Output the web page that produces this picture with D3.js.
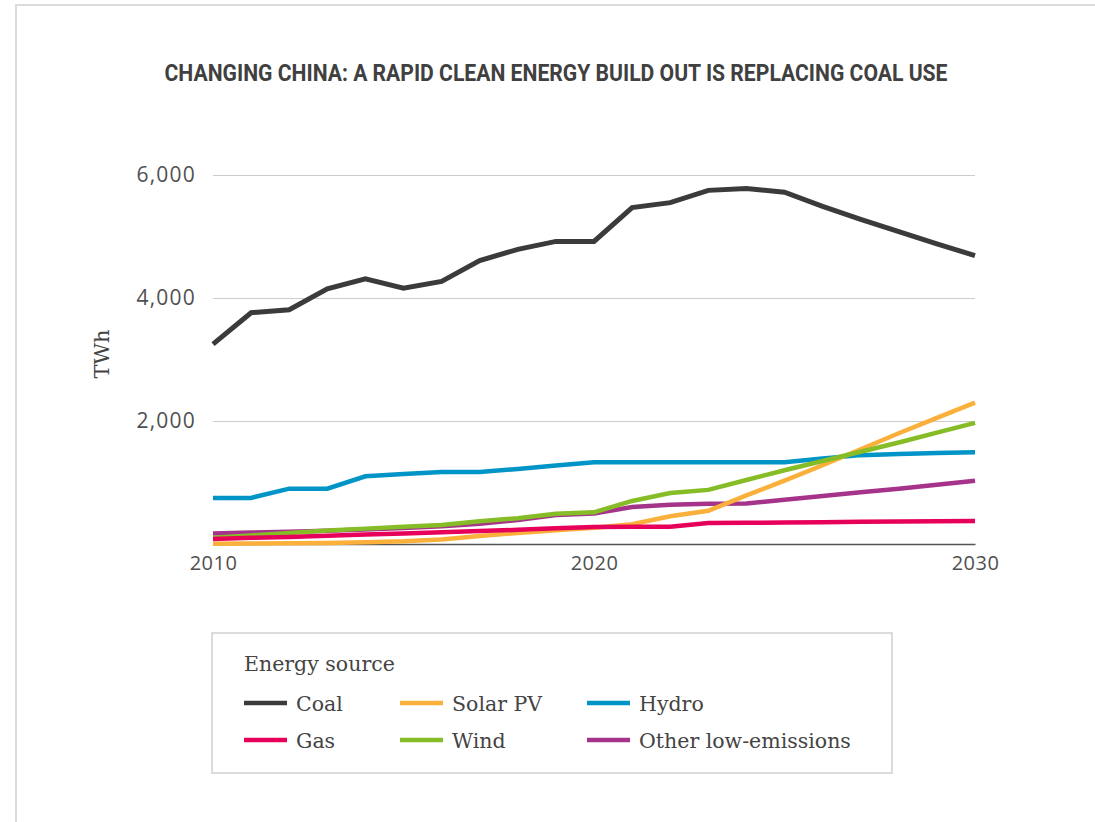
<!DOCTYPE html>
<html>
<head>
<meta charset="utf-8">
<script src="https://cdn.jsdelivr.net/npm/d3@7"></script>
<style>
  html, body { margin: 0; padding: 0; background: #fff; }
  svg { display: block; }
</style>
</head>
<body>
<svg id="chart" width="1095" height="822"></svg>
<script>
const years = d3.range(2010, 2031);
const coal   = [3250, 3760, 3810, 4150, 4310, 4160, 4270, 4610, 4790, 4920, 4920, 5470, 5550, 5750, 5780, 5720, 5490, 5280, 5080, 4880, 4690];
const solar  = [5, 8, 12, 18, 30, 45, 75, 130, 180, 225, 265, 320, 450, 540, 790, 1030, 1280, 1540, 1800, 2050, 2300];
const hydro  = [750, 750, 900, 900, 1100, 1140, 1170, 1170, 1220, 1275, 1330, 1330, 1330, 1330, 1330, 1330, 1390, 1445, 1465, 1478, 1490];
const gas    = [80, 100, 115, 135, 155, 170, 190, 210, 230, 255, 275, 280, 280, 340, 345, 350, 355, 360, 365, 370, 375];
const wind   = [100, 140, 180, 220, 250, 280, 310, 370, 420, 490, 515, 700, 830, 880, 1040, 1200, 1350, 1500, 1650, 1810, 1970];
const other  = [170, 185, 200, 215, 235, 260, 290, 330, 390, 470, 495, 600, 640, 655, 660, 720, 780, 840, 900, 965, 1030];
const yTicks = [2000, 4000, 6000];
const xTicks = [2010, 2020, 2030];

const seriesNames  = ["Coal", "Solar PV", "Hydro", "Gas", "Wind", "Other low-emissions"];
const seriesValues = [coal, solar, hydro, gas, wind, other];
const seriesColors = ["#3b3b3b", "#fbb03b", "#0095c6", "#e6005a", "#86bc25", "#a6338a"];
const drawOrder = [2, 0, 5, 1, 4, 3];

const svg = d3.select("#chart");

// frame
svg.append("path")
  .attr("d", "M16,822 L16,5 L1095,5")
  .attr("fill", "none").attr("stroke", "#dcdcdc").attr("stroke-width", 2);

// title
svg.append("text")
  .attr("x", 556).attr("y", 81)
  .attr("text-anchor", "middle")
  .attr("font-family", "Roboto, 'Liberation Sans', sans-serif")
  .attr("font-weight", 700)
  .attr("font-size", 24)
  .attr("fill", "#404040")
  .attr("textLength", 783)
  .attr("lengthAdjust", "spacingAndGlyphs")
  .text("CHANGING CHINA: A RAPID CLEAN ENERGY BUILD OUT IS REPLACING COAL USE");

const x = d3.scaleLinear().domain([2010, 2030]).range([213, 975]);
const y = d3.scaleLinear().domain([0, 6000]).range([544, 175]);

// gridlines
const grid = svg.append("g")
  .attr("transform", "translate(213,0)")
  .call(d3.axisLeft(y).tickValues(yTicks).tickSize(-762).tickFormat(""));
grid.select(".domain").remove();
grid.selectAll(".tick line").attr("stroke", "#cccccc").attr("stroke-width", 1.2);

// y tick labels
const yAxis = svg.append("g")
  .attr("transform", "translate(196,0)")
  .call(d3.axisLeft(y).tickValues(yTicks).tickSize(0).tickPadding(0).tickFormat(d3.format(",")));
yAxis.select(".domain").remove();
yAxis.selectAll("text")
  .attr("font-family", "'Open Sans', sans-serif")
  .attr("font-size", 21)
  .attr("letter-spacing", 1.2)
  .attr("fill", "#505050");

// x axis
const xAxis = svg.append("g")
  .attr("transform", "translate(0,544)")
  .call(d3.axisBottom(x).tickValues(xTicks).tickSize(0).tickPadding(12).tickFormat(d3.format("d")));
xAxis.select(".domain").attr("stroke", "#555").attr("stroke-width", 1.5);
xAxis.selectAll("text")
  .attr("font-family", "'Open Sans', sans-serif")
  .attr("font-size", 20)
  .attr("letter-spacing", 0.5)
  .attr("fill", "#505050");

// y label
svg.append("text")
  .attr("transform", "translate(109,354) rotate(-90)")
  .attr("text-anchor", "middle")
  .attr("font-family", "'DejaVu Serif', serif")
  .attr("font-size", 21)
  .attr("fill", "#444")
  .text("TWh");

// lines
const line = d3.line()
  .x((d, i) => x(years[i]))
  .y(d => y(d));

svg.append("g").selectAll("path")
  .data(drawOrder)
  .join("path")
  .attr("d", k => line(seriesValues[k]))
  .attr("fill", "none")
  .attr("stroke", k => seriesColors[k])
  .attr("stroke-width", k => k === 0 ? 5 : 4.5)
  .attr("stroke-linejoin", "miter");

// legend
const lg = svg.append("g");
lg.append("rect")
  .attr("x", 212).attr("y", 633).attr("width", 680).attr("height", 140)
  .attr("fill", "#fff").attr("stroke", "#cfcfcf").attr("stroke-width", 1.5);
lg.append("text")
  .attr("x", 244).attr("y", 671)
  .attr("font-family", "'DejaVu Serif', serif")
  .attr("font-size", 20.5)
  .attr("fill", "#444")
  .text("Energy source");

const colX = [244, 400, 587];
const rowY = [703, 740];
const items = lg.selectAll("g.item")
  .data(seriesNames.map((n, i) => ({ n, i })))
  .join("g")
  .attr("class", "item")
  .attr("transform", d => `translate(${colX[d.i % 3]},${rowY[Math.floor(d.i / 3)]})`);
items.append("line")
  .attr("x1", 0).attr("x2", 43).attr("y1", 0).attr("y2", 0)
  .attr("stroke", d => seriesColors[d.i]).attr("stroke-width", 4.5);
items.append("text")
  .attr("x", 52).attr("y", 7.5)
  .attr("font-family", "'DejaVu Serif', serif")
  .attr("font-size", 20.5)
  .attr("fill", "#444")
  .text(d => d.n);
</script>
</body>
</html>
